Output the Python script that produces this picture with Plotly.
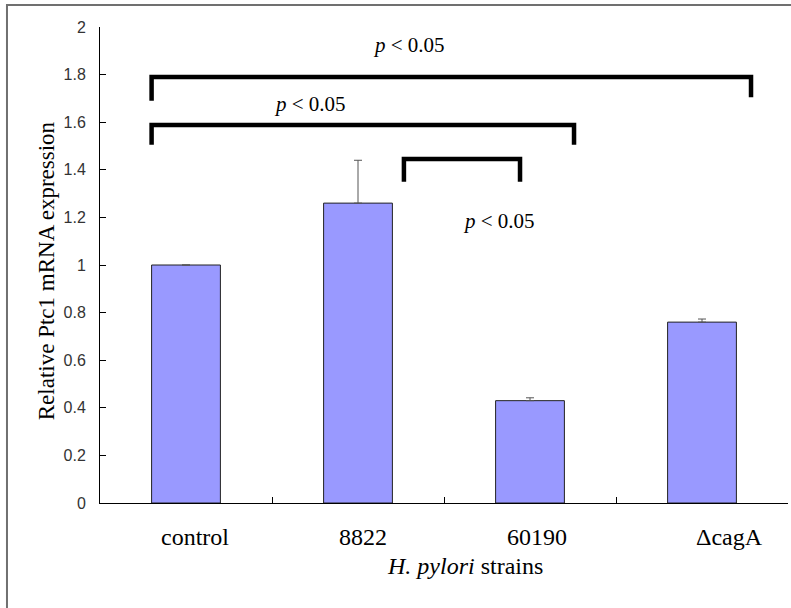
import plotly.graph_objects as go

# ---- data ----
strains = ["control", "8822", "60190", "ΔcagA"]
expression = [1.0, 1.26, 0.43, 0.76]
errors_up = [0.0, 0.18, 0.012, 0.013]
errors_down = [0.0, 0.0, 0.0, 0.0]
y_ticks = [0, 0.2, 0.4, 0.6, 0.8, 1.0, 1.2, 1.4, 1.6, 1.8, 2.0]
y_tick_text = ["0", "0.2", "0.4", "0.6", "0.8", "1", "1.2", "1.4", "1.6", "1.8", "2"]
# significance brackets: (x_left, x_right, y_top, y_left_leg, y_right_leg)
brackets = [
    (-0.2, 3.285, 1.79, 1.69, 1.705),
    (-0.2, 2.256, 1.588, 1.505, 1.505),
    (1.267, 1.942, 1.445, 1.35, 1.35),
]
sig_labels = ["<i>p</i> < 0.05", "<i>p</i> < 0.05", "<i>p</i> < 0.05"]
sig_label_pos = [(1.297, 1.924), (0.721, 1.676), (1.82, 1.185)]
label_shift = [9, 5, 7, 27]

SERIF = "Liberation Serif"
SANS = "Liberation Sans"

fig = go.Figure()
fig.add_trace(go.Bar(
    x=list(range(len(strains))),
    y=expression,
    width=0.4,
    marker=dict(color="#9999FF", line=dict(color="#222222", width=1)),
    error_y=dict(type="data", symmetric=False, array=errors_up,
                 arrayminus=errors_down, visible=True, color="#555555",
                 thickness=1, width=4),
    showlegend=False,
    hoverinfo="skip",
))

shapes = []
for (x0, x1, yt, yl, yr) in brackets:
    shapes.append(dict(
        type="path", xref="x", yref="y",
        path=f"M {x0},{yl} L {x0},{yt} L {x1},{yt} L {x1},{yr}",
        line=dict(color="black", width=4.5),
    ))
# outer frame of the picture
shapes.append(dict(type="rect", xref="paper", yref="paper",
                   x0=-0.1352, x1=1.2, y0=-0.4, y1=1.046,
                   line=dict(color="#707070", width=2), layer="below"))

annotations = []
for txt, (ax, ay) in zip(sig_labels, sig_label_pos):
    annotations.append(dict(x=ax, y=ay, xref="x", yref="y", text=txt,
                            showarrow=False, xanchor="center", yanchor="middle",
                            font=dict(family=SERIF, size=21, color="black")))
for i, (lab, sh) in enumerate(zip(strains, label_shift)):
    annotations.append(dict(x=(i + 0.5) / len(strains), y=-0.0714,
                            xref="paper", yref="paper", text=lab,
                            xshift=sh, showarrow=False,
                            xanchor="center", yanchor="middle",
                            font=dict(family=SERIF, size=24, color="black")))
annotations.append(dict(x=0.5305, y=-0.132, xref="paper", yref="paper",
                        text="<i>H. pylori</i> strains", showarrow=False,
                        xanchor="center", yanchor="middle",
                        font=dict(family=SERIF, size=24, color="black")))
annotations.append(dict(x=-0.0785, y=0.489, xref="paper", yref="paper",
                        text="Relative Ptc1 mRNA expression", textangle=-90,
                        showarrow=False, xanchor="center", yanchor="middle",
                        font=dict(family=SERIF, size=23, color="black")))

fig.update_layout(
    width=791, height=608,
    margin=dict(l=100, r=3, t=27, b=105),
    plot_bgcolor="white", paper_bgcolor="white",
    shapes=shapes, annotations=annotations,
    xaxis=dict(range=[-0.5, 3.5], tickvals=[0.5, 1.5, 2.5, 3.5],
               showticklabels=False, ticks="inside", ticklen=6,
               tickcolor="black", showline=True, linecolor="black",
               linewidth=1, showgrid=False, zeroline=False),
    yaxis=dict(range=[0, 2], tickvals=y_ticks, ticktext=y_tick_text,
               ticks="inside", ticklen=6, tickcolor="black",
               showline=True, linecolor="black", linewidth=1,
               showgrid=False, zeroline=False, ticklabelstandoff=10,
               tickfont=dict(family=SANS, size=16, color="#333333")),
)

fig.write_html("out.html", config={"displayModeBar": False},
               post_script="document.body.style.margin='0px';")
